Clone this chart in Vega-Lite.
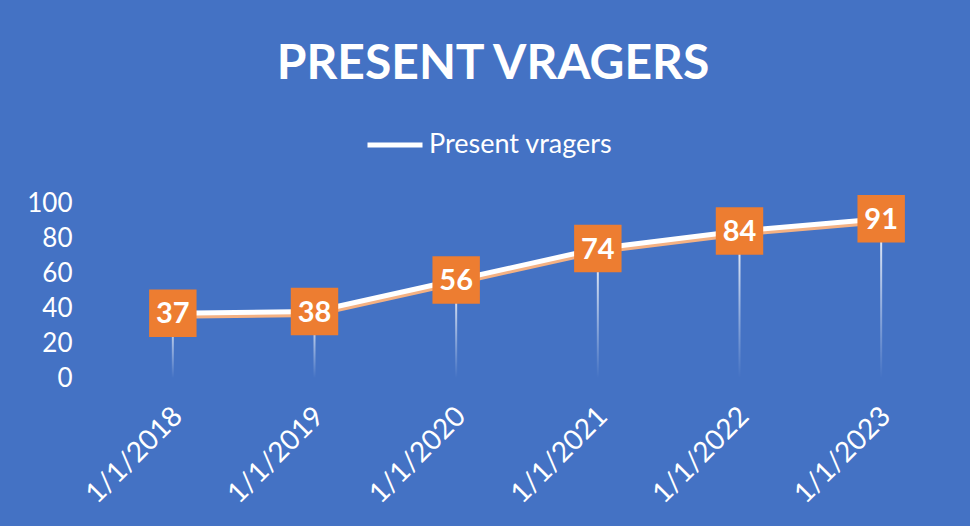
{
  "$schema": "https://vega.github.io/schema/vega-lite/v6.json",
  "autosize": {"type": "none"},
  "width": 850,
  "height": 175,
  "padding": {"left": 102, "top": 203, "right": 18, "bottom": 148},
  "background": "#4472C4",
  "title": {
    "text": "PRESENT VRAGERS",
    "font": "Lato",
    "fontSize": 48,
    "fontWeight": "bold",
    "color": "white",
    "anchor": "middle",
    "frame": "group",
    "dx": -34,
    "offset": 26
  },
  "data": {
    "values": [
      {"date": "1/1/2018", "value": 37, "series": "Present vragers"},
      {"date": "1/1/2019", "value": 38, "series": "Present vragers"},
      {"date": "1/1/2020", "value": 56, "series": "Present vragers"},
      {"date": "1/1/2021", "value": 74, "series": "Present vragers"},
      {"date": "1/1/2022", "value": 84, "series": "Present vragers"},
      {"date": "1/1/2023", "value": 91, "series": "Present vragers"}
    ]
  },
  "encoding": {
    "x": {
      "field": "date",
      "type": "ordinal",
      "sort": null,
      "scale": {"type": "point", "padding": 0.5},
      "axis": {
        "title": null,
        "domain": false,
        "ticks": false,
        "grid": false,
        "labelAngle": -45,
        "labelFont": "Lato",
        "labelFontSize": 28,
        "labelColor": "white",
        "labelPadding": 24,
        "labelOffset": -5
      }
    },
    "y": {
      "field": "value",
      "type": "quantitative",
      "scale": {"domain": [0, 100], "nice": false},
      "axis": {
        "title": null,
        "domain": false,
        "ticks": false,
        "grid": false,
        "values": [0, 20, 40, 60, 80, 100],
        "labelFont": "Lato",
        "labelFontSize": 26,
        "labelColor": "white",
        "labelPadding": 30
      }
    }
  },
  "layer": [
    {
      "mark": {
        "type": "bar",
        "size": 2,
        "color": {
          "gradient": "linear",
          "x1": 0, "y1": 0, "x2": 0, "y2": 1,
          "stops": [
            {"offset": 0, "color": "rgba(255,255,255,0.95)"},
            {"offset": 1, "color": "rgba(255,255,255,0)"}
          ]
        }
      }
    },
    {
      "mark": {"type": "line", "color": "#F4B183", "strokeWidth": 5, "yOffset": 3}
    },
    {
      "mark": {"type": "line", "strokeWidth": 5},
      "encoding": {
        "color": {
          "field": "series",
          "type": "nominal",
          "scale": {"range": ["white"]},
          "legend": {
            "title": null,
            "orient": "none",
            "legendX": 263,
            "legendY": -88,
            "padding": 0,
            "symbolType": "stroke",
            "symbolSize": 3025,
            "symbolStrokeWidth": 5,
            "symbolStrokeColor": "white",
            "labelFont": "Lato",
            "labelFontSize": 27,
            "labelColor": "white",
            "labelOffset": 4,
            "labelLimit": 400
          }
        }
      }
    },
    {
      "mark": {"type": "point", "shape": "square", "filled": true, "size": 2250, "color": "#ED7D31", "opacity": 1}
    },
    {
      "mark": {"type": "text", "font": "Lato", "fontSize": 29, "fontWeight": "bold", "color": "white", "baseline": "middle", "dy": 1},
      "encoding": {"text": {"field": "value", "type": "quantitative"}}
    }
  ],
  "config": {"view": {"stroke": null}}
}
